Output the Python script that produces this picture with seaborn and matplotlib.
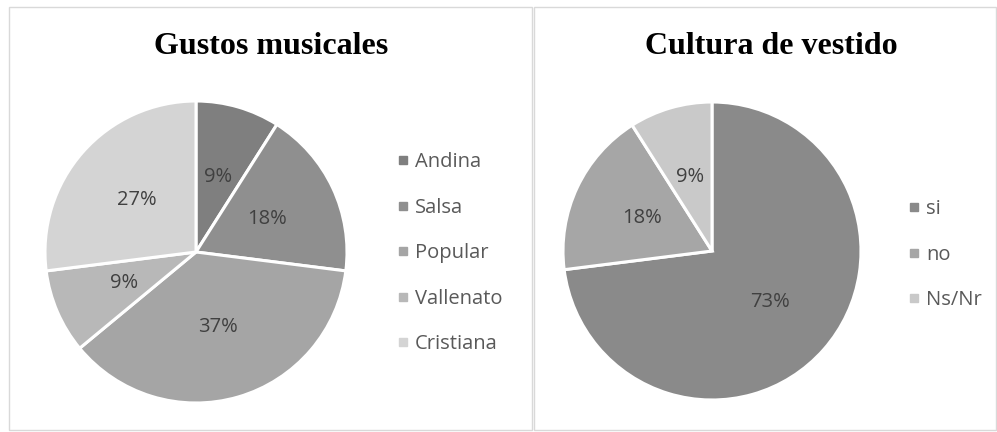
import matplotlib
matplotlib.use("Agg")
import matplotlib.pyplot as plt
from matplotlib.lines import Line2D
from matplotlib.patches import Rectangle
import seaborn as sns

sns.set_theme(style="white")
plt.rcParams['font.family'] = ['Open Sans', 'DejaVu Sans']

# Data
music_labels = ['Andina', 'Salsa', 'Popular', 'Vallenato', 'Cristiana']
music_values = [9, 18, 37, 9, 27]
music_colors = ['#7f7f7f', '#8f8f8f', '#a5a5a5', '#b8b8b8', '#d4d4d4']

dress_labels = ['si', 'no', 'Ns/Nr']
dress_values = [73, 18, 9]
dress_colors = ['#8a8a8a', '#a6a6a6', '#c9c9c9']

W, H = 997, 432
fig = plt.figure(figsize=(W / 100, H / 100), dpi=100)
fig.patch.set_facecolor('white')

# chart boxes
for x0, x1 in [(9, 532), (534, 996)]:
    fig.patches.append(Rectangle((x0 / W, 2 / H), (x1 - x0) / W, (425 - 2) / H,
                                 transform=fig.transFigure, fill=False,
                                 edgecolor='#d9d9d9', linewidth=1))


def draw_pie(cx, cy, r, values, colors, labels, title, tx, leg_x, leg_y):
    m = 1.03
    ax = fig.add_axes([(cx - r * m) / W, (H - cy - r * m) / H, 2 * r * m / W, 2 * r * m / H])
    ax.pie(values, colors=colors, startangle=90, counterclock=False,
           autopct=lambda p: f'{p:.0f}%', pctdistance=0.52,
           wedgeprops=dict(edgecolor='white', linewidth=2.2),
           textprops=dict(color='#404040', fontsize=14.5))
    ax.set_xlim(-m, m)
    ax.set_ylim(-m, m)
    ax.set_aspect('equal')
    ax.axis('off')
    fig.text(tx / W, 1 - 47 / H, title, ha='center', va='center', fontsize=23,
             fontweight='bold', family='Liberation Serif', color='black')
    handles = [Line2D([], [], marker='s', linestyle='', markersize=6,
                      markerfacecolor=c, markeredgecolor=c) for c in colors]
    fig.legend(handles, labels, loc='upper left', bbox_to_anchor=(leg_x / W, 1 - leg_y / H),
               frameon=False, fontsize=14.5, labelcolor='#595959', handletextpad=0.15,
               handlelength=0.9, labelspacing=1.27, borderaxespad=0, borderpad=0)


draw_pie(196, 252, 151, music_values, music_colors, music_labels, 'Gustos musicales', 271, 394, 152)
draw_pie(712, 251, 149, dress_values, dress_colors, dress_labels, 'Cultura de vestido', 771, 905, 199)

fig.savefig('out.png', dpi=100, facecolor='white')
